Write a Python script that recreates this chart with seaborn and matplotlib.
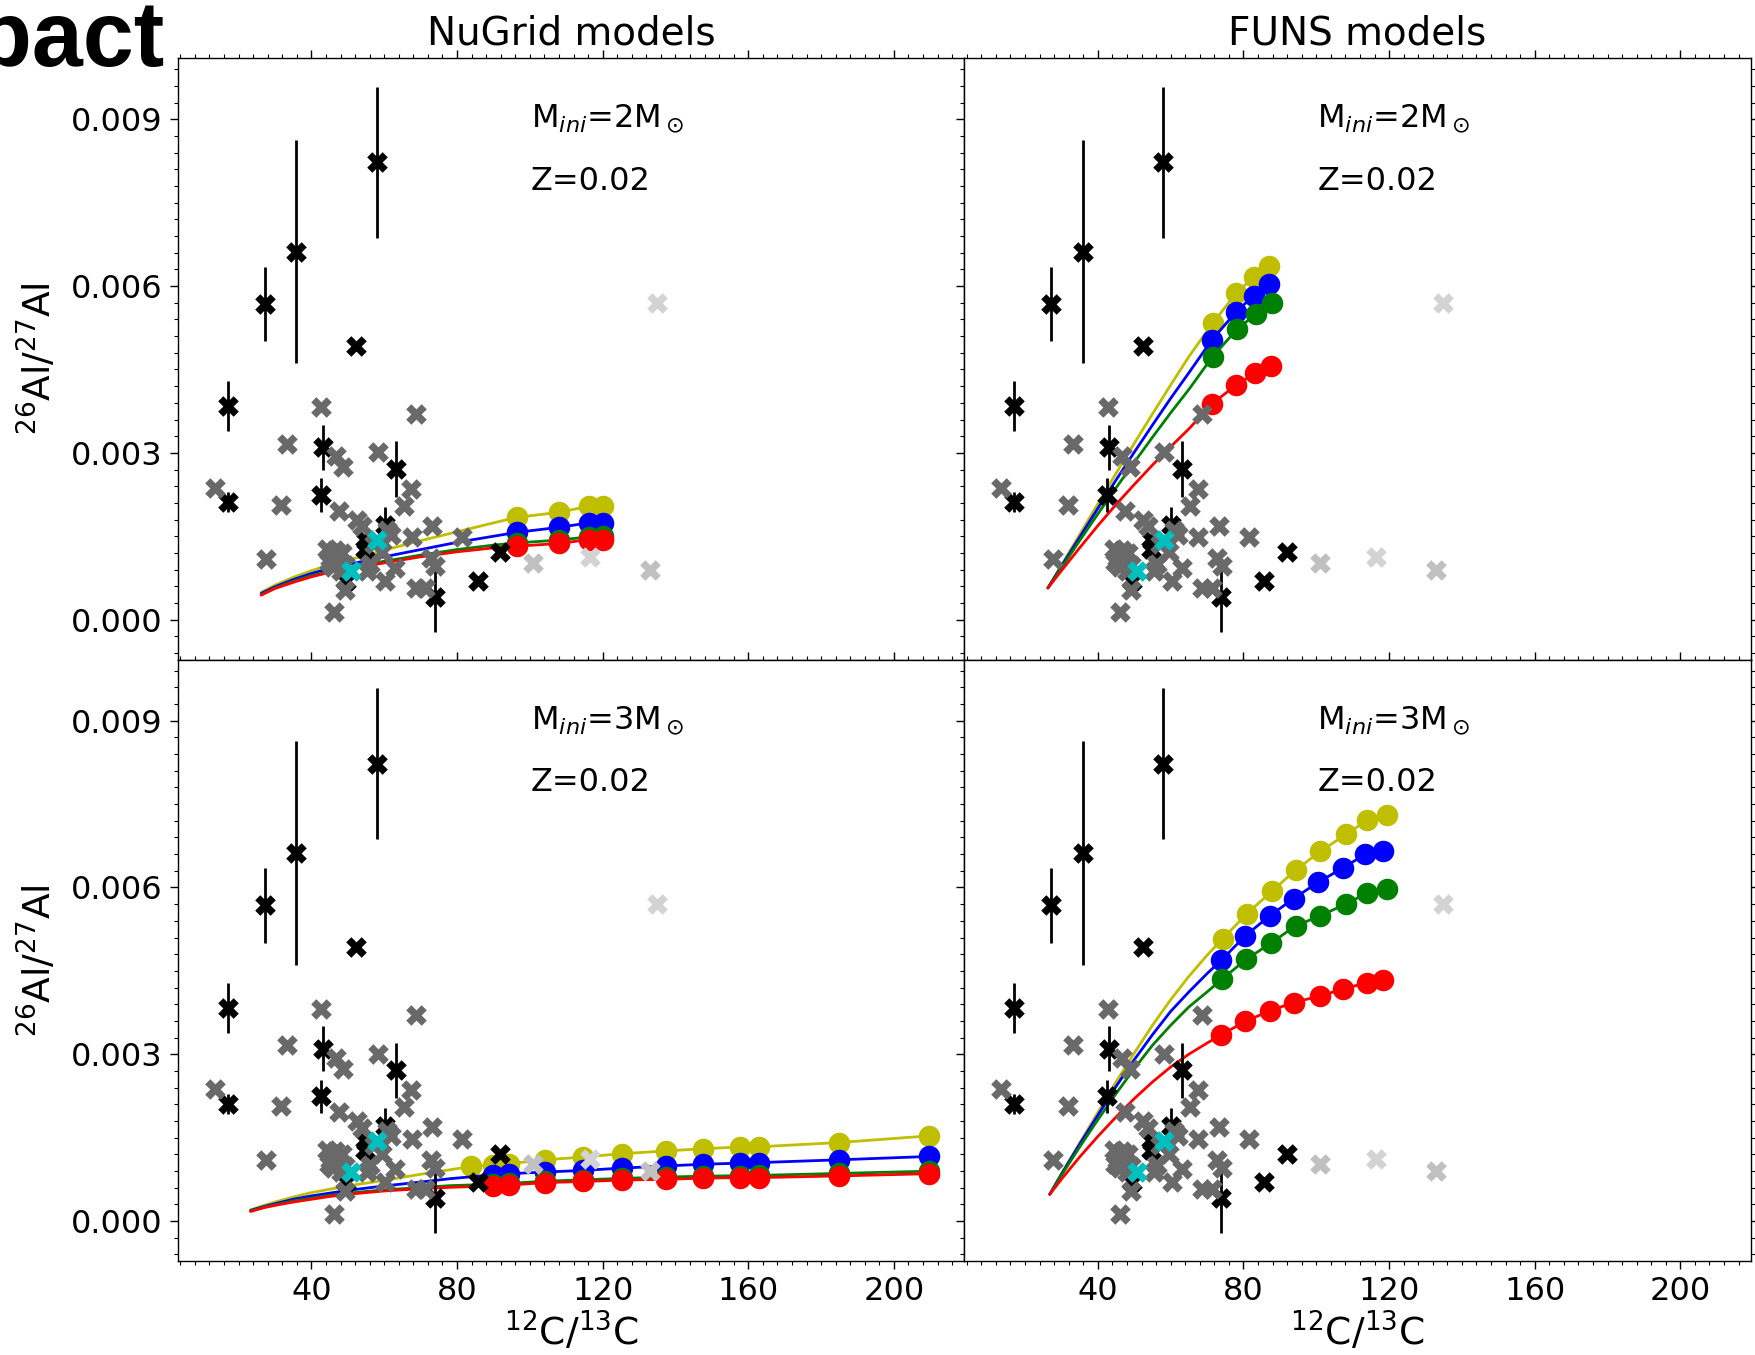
import matplotlib
matplotlib.use("Agg")
import matplotlib.pyplot as plt
import seaborn as sns
from matplotlib.ticker import FixedLocator, MultipleLocator, FormatStrFormatter

# ---------------- measured grains (x = 12C/13C, y = 26Al/27Al in 1e-3) ----------------
blk_x = [17.1, 17.1, 27.2, 35.8, 58.0, 52.3, 43.1, 42.6, 63.1, 60.2, 54.9, 54.7, 49.4, 73.9, 91.9, 85.7]
blk_y = [3.84, 2.11, 5.68, 6.62, 8.23, 4.93, 3.10, 2.24, 2.71, 1.70, 1.42, 1.27, 0.70, 0.41, 1.21, 0.70]
blk_err = [0.45, 0.18, 0.67, 2.01, 1.36, 0.0, 0.40, 0.30, 0.50, 0.33, 0.28, 0.20, 0.15, 0.63, 0.0, 0.0]

gray_x = [13.4, 33.3, 31.7, 27.6, 42.7, 68.7, 46.7, 48.8, 58.2, 67.4, 65.4, 47.5, 52.5, 53.8,
          73.2, 67.6, 81.4, 60.8, 62.0, 57.2, 59.5, 56.2, 63.0, 60.3, 72.8, 74.0, 68.6, 71.3,
          49.2, 46.1, 44.4, 46.6, 48.3, 45.2, 47.4, 49.2, 46.0, 48.0, 44.8, 55.4]
gray_y = [2.37, 3.16, 2.06, 1.09, 3.82, 3.70, 2.94, 2.74, 3.01, 2.35, 2.05, 1.96, 1.79, 1.68,
          1.69, 1.48, 1.48, 1.62, 1.52, 1.36, 1.21, 1.00, 0.93, 0.70, 1.10, 0.96, 0.57, 0.57,
          0.53, 0.13, 1.27, 1.26, 1.20, 1.10, 1.08, 0.98, 0.95, 0.88, 1.03, 0.88]

cyan_x = [58.1, 50.9]
cyan_y = [1.44, 0.88]

silver_x = [101.0, 133.0]
silver_y = [1.02, 0.89]
ltgray_x = [116.4, 134.8]
ltgray_y = [1.12, 5.70]

# ---------------- NuGrid 2 Msun ----------------
ng2_line_x = [26.2, 30, 35, 40, 45, 50, 60, 70, 80, 90]
ng2_yel_line = [0.49, 0.62, 0.76, 0.88, 0.98, 1.07, 1.25, 1.42, 1.58, 1.74]
ng2_blu_line = [0.47, 0.59, 0.72, 0.83, 0.92, 0.99, 1.13, 1.26, 1.39, 1.50]
ng2_grn_line = [0.45, 0.57, 0.69, 0.79, 0.87, 0.93, 1.05, 1.16, 1.26, 1.34]
ng2_red_line = [0.44, 0.56, 0.67, 0.77, 0.85, 0.91, 1.02, 1.13, 1.22, 1.29]
ng2_mark_x = [96.4, 108.0, 116.2, 120.0]
ng2_yel_mark = [1.84, 1.93, 2.04, 2.05]
ng2_blu_mark = [1.57, 1.66, 1.74, 1.74]
ng2_grn_mark = [1.38, 1.43, 1.49, 1.50]
ng2_red_mark = [1.32, 1.37, 1.44, 1.44]

# ---------------- FUNS 2 Msun ----------------
f2_line_x = [26.3, 30, 35, 40, 45, 50, 55, 60, 65]
f2_yel_line = [0.57, 0.98, 1.53, 2.08, 2.63, 3.17, 3.70, 4.22, 4.73]
f2_blu_line = [0.57, 0.96, 1.48, 2.00, 2.51, 3.01, 3.50, 3.98, 4.44]
f2_grn_line = [0.57, 0.93, 1.42, 1.90, 2.37, 2.83, 3.28, 3.72, 4.14]
f2_red_line = [0.57, 0.88, 1.29, 1.69, 2.07, 2.43, 2.78, 3.11, 3.43]
f2_yel_mx = [71.5, 78.0, 82.9, 87.1]
f2_yel_my = [5.33, 5.87, 6.17, 6.37]
f2_blu_mx = [71.3, 77.9, 82.8, 86.9]
f2_blu_my = [5.03, 5.53, 5.83, 6.03]
f2_grn_mx = [71.5, 78.2, 83.4, 87.8]
f2_grn_my = [4.73, 5.22, 5.50, 5.69]
f2_red_mx = [71.3, 78.0, 83.1, 87.6]
f2_red_my = [3.88, 4.22, 4.43, 4.57]

# ---------------- NuGrid 3 Msun ----------------
ng3_line_x = [23.3, 27, 30, 35, 40, 45, 50, 60, 70, 78]
ng3_yel_line = [0.20, 0.28, 0.34, 0.43, 0.51, 0.57, 0.63, 0.73, 0.84, 0.92]
ng3_blu_line = [0.19, 0.26, 0.31, 0.39, 0.45, 0.50, 0.55, 0.63, 0.70, 0.76]
ng3_grn_line = [0.18, 0.25, 0.29, 0.36, 0.41, 0.46, 0.50, 0.56, 0.60, 0.635]
ng3_red_line = [0.17, 0.24, 0.28, 0.34, 0.39, 0.44, 0.48, 0.54, 0.58, 0.605]
ng3_yel_mx = [83.8, 89.9, 94.2, 104.2, 114.7, 125.2, 137.5, 147.6, 157.6, 163.0, 184.8, 209.5]
ng3_yel_my = [0.98, 1.01, 1.03, 1.10, 1.15, 1.21, 1.26, 1.30, 1.33, 1.335, 1.41, 1.53]
ng3_mx = [89.9, 94.2, 104.2, 114.7, 125.2, 137.5, 147.6, 157.6, 163.0, 184.8, 209.5]
ng3_blu_my = [0.83, 0.85, 0.88, 0.91, 0.95, 0.99, 1.02, 1.04, 1.05, 1.10, 1.16]
ng3_grn_my = [0.66, 0.675, 0.715, 0.74, 0.765, 0.79, 0.805, 0.815, 0.82, 0.855, 0.895]
ng3_red_my = [0.63, 0.645, 0.69, 0.71, 0.735, 0.75, 0.77, 0.78, 0.78, 0.81, 0.85]

# ---------------- FUNS 3 Msun ----------------
f3_line_x = [26.8, 30, 35, 40, 45, 50, 55, 60, 65, 70]
f3_yel_line = [0.48, 0.85, 1.40, 1.95, 2.50, 3.02, 3.52, 3.98, 4.40, 4.78]
f3_blu_line = [0.48, 0.84, 1.38, 1.90, 2.42, 2.90, 3.35, 3.77, 4.12, 4.45]
f3_grn_line = [0.48, 0.82, 1.33, 1.82, 2.29, 2.74, 3.16, 3.52, 3.85, 4.12]
f3_red_line = [0.48, 0.75, 1.15, 1.52, 1.87, 2.20, 2.50, 2.77, 3.00, 3.20]
f3_yel_mx = [74.3, 81.0, 87.9, 94.3, 101.1, 108.3, 114.0, 119.3]
f3_yel_my = [5.08, 5.53, 5.94, 6.31, 6.65, 6.96, 7.21, 7.30]
f3_blu_mx = [73.9, 80.5, 87.2, 93.8, 100.4, 107.3, 113.5, 118.3]
f3_blu_my = [4.69, 5.13, 5.49, 5.80, 6.09, 6.35, 6.60, 6.65]
f3_grn_mx = [74.1, 80.8, 87.6, 94.3, 101.1, 108.3, 114.0, 119.3]
f3_grn_my = [4.35, 4.71, 5.00, 5.31, 5.49, 5.71, 5.90, 5.97]
f3_red_mx = [73.9, 80.5, 87.2, 93.8, 101.1, 107.3, 114.0, 118.3]
f3_red_my = [3.35, 3.59, 3.78, 3.93, 4.05, 4.17, 4.29, 4.33]

col_titles = ["NuGrid models", "FUNS models"]
mass_labels = [r"M$_{ini}$=2M$_\odot$", r"M$_{ini}$=3M$_\odot$"]
z_label = "Z=0.02"
x_ticks = [40, 80, 120, 160, 200]
y_ticks = [0.000, 0.003, 0.006, 0.009]

YEL, BLU, GRN, RED = "#bfbf00", "#0000ff", "#008000", "#ff0000"

sns.set_theme(style="ticks", color_codes=False)
plt.rcParams["font.family"] = ["DejaVu Sans"]
for k in ["text.color", "axes.labelcolor", "xtick.color", "ytick.color", "axes.edgecolor"]:
    plt.rcParams[k] = "black"
plt.rcParams["axes.linewidth"] = 1.0

fig, axes = plt.subplots(2, 2, figsize=(17.55, 13.55), dpi=100, sharex=True, sharey=True)
fig.subplots_adjust(left=0.1013, right=0.9975, top=0.957, bottom=0.0694, wspace=0, hspace=0)

XS = 220  # grain marker area


def draw_model(ax, lx, ly, mx, my, color, z):
    xs = list(lx) + list(mx)
    ys = [v * 1e-3 for v in list(ly) + list(my)]
    n0 = len(lx)
    sns.lineplot(x=xs, y=ys, ax=ax, color=color, lw=2.0, sort=False, estimator=None,
                 marker="o", markersize=15.5, markeredgewidth=0,
                 markevery=list(range(n0, len(xs))), zorder=z)


def draw_grains(ax):
    ax.errorbar(blk_x, [v * 1e-3 for v in blk_y], yerr=[e * 1e-3 for e in blk_err],
                fmt="none", ecolor="black", elinewidth=2.0, capsize=0, zorder=5)
    sns.scatterplot(x=blk_x, y=[v * 1e-3 for v in blk_y], ax=ax, marker="X", s=XS,
                    color="black", linewidth=0, zorder=6)
    sns.scatterplot(x=gray_x, y=[v * 1e-3 for v in gray_y], ax=ax, marker="X", s=XS,
                    color="#696969", linewidth=0, zorder=7)
    sns.scatterplot(x=cyan_x, y=[v * 1e-3 for v in cyan_y], ax=ax, marker="X", s=XS,
                    color="#00bfbf", linewidth=0, zorder=8)
    sns.scatterplot(x=silver_x, y=[v * 1e-3 for v in silver_y], ax=ax, marker="X", s=XS,
                    color="#c0c0c0", linewidth=0, zorder=9)
    sns.scatterplot(x=ltgray_x, y=[v * 1e-3 for v in ltgray_y], ax=ax, marker="X", s=XS,
                    color="#d3d3d3", linewidth=0, zorder=9)


ax = axes[0, 0]
draw_model(ax, ng2_line_x, ng2_yel_line, ng2_mark_x, ng2_yel_mark, YEL, 2.0)
draw_model(ax, ng2_line_x, ng2_blu_line, ng2_mark_x, ng2_blu_mark, BLU, 2.1)
draw_model(ax, ng2_line_x, ng2_grn_line, ng2_mark_x, ng2_grn_mark, GRN, 2.2)
draw_model(ax, ng2_line_x, ng2_red_line, ng2_mark_x, ng2_red_mark, RED, 2.3)

ax = axes[0, 1]
draw_model(ax, f2_line_x, f2_yel_line, f2_yel_mx, f2_yel_my, YEL, 2.0)
draw_model(ax, f2_line_x, f2_blu_line, f2_blu_mx, f2_blu_my, BLU, 2.1)
draw_model(ax, f2_line_x, f2_grn_line, f2_grn_mx, f2_grn_my, GRN, 2.2)
draw_model(ax, f2_line_x, f2_red_line, f2_red_mx, f2_red_my, RED, 2.3)

ax = axes[1, 0]
draw_model(ax, ng3_line_x, ng3_yel_line, ng3_yel_mx, ng3_yel_my, YEL, 2.0)
draw_model(ax, ng3_line_x, ng3_blu_line, ng3_mx, ng3_blu_my, BLU, 2.1)
draw_model(ax, ng3_line_x, ng3_grn_line, ng3_mx, ng3_grn_my, GRN, 2.2)
draw_model(ax, ng3_line_x, ng3_red_line, ng3_mx, ng3_red_my, RED, 2.3)

ax = axes[1, 1]
draw_model(ax, f3_line_x, f3_yel_line, f3_yel_mx, f3_yel_my, YEL, 2.0)
draw_model(ax, f3_line_x, f3_blu_line, f3_blu_mx, f3_blu_my, BLU, 2.1)
draw_model(ax, f3_line_x, f3_grn_line, f3_grn_mx, f3_grn_my, GRN, 2.2)
draw_model(ax, f3_line_x, f3_red_line, f3_red_mx, f3_red_my, RED, 2.3)

for r in range(2):
    for c in range(2):
        ax = axes[r, c]
        draw_grains(ax)
        ax.set_xlim(3.3, 219.3)
        ax.set_ylim(-0.00072, 0.0101)
        ax.xaxis.set_major_locator(FixedLocator(x_ticks))
        ax.xaxis.set_minor_locator(MultipleLocator(4))
        ax.yaxis.set_major_locator(FixedLocator(y_ticks))
        ax.yaxis.set_minor_locator(MultipleLocator(0.0003))
        ax.yaxis.set_major_formatter(FormatStrFormatter("%.3f"))
        ax.tick_params(which="both", direction="out", top=True, right=True, labelsize=23)
        ax.tick_params(which="major", length=6, width=1.0, pad=5)
        ax.tick_params(which="minor", length=3, width=0.8)
        for s in ax.spines.values():
            s.set_linewidth(1.0)
            s.set_color("black")
        ax.text(100.3, 0.00886, mass_labels[r], fontsize=23, va="baseline", ha="left")
        ax.text(100.3, 0.00773, z_label, fontsize=23, va="baseline", ha="left")
        ax.set_xlabel("")
        ax.set_ylabel("")

for c in range(2):
    axes[0, c].set_title(col_titles[c], fontsize=28, pad=10)
    axes[1, c].set_xlabel(r"$^{12}$C/$^{13}$C", fontsize=27, labelpad=2)
for r in range(2):
    axes[r, 0].set_ylabel(r"$^{26}$Al/$^{27}$Al", fontsize=27, labelpad=8)

fig.text(0.094, 0.951, "Impact", ha="right", va="baseline", fontsize=66,
         fontweight="bold", family=["Liberation Sans", "DejaVu Sans"])

fig.savefig("out.png", dpi=100)
